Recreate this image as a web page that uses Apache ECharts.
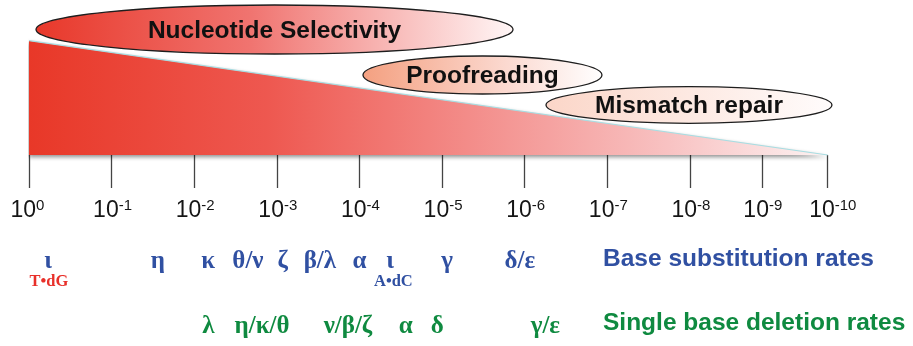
<!DOCTYPE html>
<html><head><meta charset="utf-8">
<script src="https://cdn.jsdelivr.net/npm/echarts@6/dist/echarts.min.js"></script>
<style>html,body{margin:0;padding:0;background:#fff}#c{width:913px;height:346px}</style>
</head><body><div id="c"></div>
<script>
// ---- data (log10 of error rate) ----
const tickExponents = [0, -1, -2, -3, -4, -5, -6, -7, -8, -9, -10];
const tickPositions = [0, 1, 2, 3, 4, 5, 6, 7, 8, 8.87, 9.667]; // axis spacing as drawn in the figure
const wedgeExponents = [0, -10];
const wedgeHeights = [114.3, 0];
const mechanismNames = ['Nucleotide Selectivity', 'Proofreading', 'Mismatch repair'];
const mechanismFrom = [-0.085, -4.042, -6.257];
const mechanismTo = [-5.858, -6.935, -10.065];
const substitutionLabels = ['ι', 'η', 'κ', 'θ/ν', 'ζ', 'β/λ', 'α', 'ι', 'γ', 'δ/ε'];
const substitutionExp = [-0.23, -1.56, -2.17, -2.65, -3.07, -3.52, -4.00, -4.37, -5.06, -5.94];
const substitutionNotes = ['T•dG', 'A•dC'];
const substitutionNoteExp = [-0.24, -4.41];
const deletionLabels = ['λ', 'η/κ/θ', 'ν/β/ζ', 'α', 'δ', 'γ/ε'];
const deletionExp = [-2.17, -2.82, -3.86, -4.56, -4.94, -6.25];
const rowTitles = ['Base substitution rates', 'Single base deletion rates'];

// ---- styling / layout ----
const BLUE = '#3050a2', GREEN = '#0f8a40', RED = '#e8302a';
const noteColors = [RED, BLUE];
const ellipseCY = [125.5, 80, 50];
const ellipseRY = [24.5, 19, 18.3];
const ellipseFill = [
  [[0, '#e8382a'], [0.45, '#f07470'], [1, '#fff6f6']],
  [[0, '#f4a080'], [0.6, '#fbd9d0'], [1, '#ffffff']],
  [[0, '#fbd6c8'], [1, '#fffcfc']]
];
const ROW_SUB = -107, ROW_NOTE = -127, ROW_DEL = -171.5;

function toAxis(e) {
  const d = -e;
  const n = tickExponents.length;
  for (let i = 0; i < n - 1; i++) {
    const d0 = -tickExponents[i], d1 = -tickExponents[i + 1];
    if (d <= d1 || i === n - 2) {
      return tickPositions[i] + (d - d0) / (d1 - d0) * (tickPositions[i + 1] - tickPositions[i]);
    }
  }
}

function textSeries(labels, exps, rowY, colorFn, font) {
  return {
    type: 'custom',
    coordinateSystem: 'cartesian2d',
    silent: true,
    z: 5,
    data: exps.map(e => [toAxis(e), rowY]),
    renderItem: function (params, api) {
      const p = api.coord([api.value(0), api.value(1)]);
      return {
        type: 'text',
        x: p[0], y: p[1],
        style: {
          text: labels[params.dataIndex],
          fill: colorFn(params.dataIndex),
          font: font,
          align: 'center',
          verticalAlign: 'middle'
        }
      };
    }
  };
}

const chart = echarts.init(document.getElementById('c'), null, { renderer: 'canvas' });
chart.setOption({
  animation: false,
  backgroundColor: '#ffffff',
  grid: { left: 29, right: 913 - 827.7, top: 0, bottom: 0, outerBoundsMode: 'none', containLabel: false },
  xAxis: {
    type: 'value', min: 0, max: tickPositions[tickPositions.length - 1],
    splitLine: { show: false },
    axisLine: { show: false, onZero: true },
    axisTick: { show: true, customValues: tickPositions, length: 33, lineStyle: { color: '#444', width: 1.3 } },
    axisLabel: { show: false }
  },
  yAxis: { type: 'value', min: -191, max: 155, show: false, splitLine: { show: false } },
  series: [
    {
      type: 'line',
      data: wedgeExponents.map((e, i) => [toAxis(e), wedgeHeights[i]]),
      symbol: 'none',
      silent: true,
      z: 1,
      lineStyle: { color: '#a8dde2', width: 1.2 },
      areaStyle: {
        opacity: 1,
        color: new echarts.graphic.LinearGradient(0, 0, 1, 0, [
          { offset: 0, color: '#e83828' },
          { offset: 0.3, color: '#ee5850' },
          { offset: 0.55, color: '#f38c89' },
          { offset: 0.8, color: '#f8c2c2' },
          { offset: 1, color: '#fdf2f2' }
        ]),
        shadowColor: 'rgba(0,0,0,0.45)', shadowBlur: 4, shadowOffsetY: 2
      }
    },
    {
      type: 'custom',
      coordinateSystem: 'cartesian2d',
      silent: true,
      z: 3,
      data: mechanismNames.map((n, i) => [toAxis(mechanismFrom[i]), toAxis(mechanismTo[i])]),
      encode: { x: [0, 1] },
      renderItem: function (params, api) {
        const i = params.dataIndex;
        const x1 = api.coord([api.value(0), 0])[0];
        const x2 = api.coord([api.value(1), 0])[0];
        const cy = api.coord([0, ellipseCY[i]])[1];
        const ry = api.size([0, ellipseRY[i]])[1];
        const cx = (x1 + x2) / 2, rx = (x2 - x1) / 2;
        return {
          type: 'group',
          children: [
            {
              type: 'ellipse',
              shape: { cx: cx, cy: cy, rx: rx, ry: ry },
              style: {
                fill: new echarts.graphic.LinearGradient(0, 0, 1, 0,
                  ellipseFill[i].map(s => ({ offset: s[0], color: s[1] }))),
                stroke: '#1e1e1e', lineWidth: 1.3
              }
            },
            {
              type: 'text', x: cx, y: cy + 1.5,
              style: {
                text: mechanismNames[i], fill: '#111',
                font: 'bold 24.5px "Liberation Sans", Arial, sans-serif',
                align: 'center', verticalAlign: 'middle'
              }
            }
          ]
        };
      }
    },
    {
      // tick labels 10^n
      type: 'custom',
      coordinateSystem: 'cartesian2d',
      silent: true,
      z: 5,
      data: tickPositions.map(p => [p, 0]),
      renderItem: function (params, api) {
        const p = api.coord([api.value(0), 0]);
        const e = tickExponents[params.dataIndex];
        return {
          type: 'text',
          x: p[0] - 18.5, y: p[1] + 43,
          style: {
            text: '{b|10}{s|' + (e === 0 ? '0' : String(e)) + '}',
            align: 'left', verticalAlign: 'top',
            rich: {
              b: { fontSize: 23, fontFamily: 'Liberation Sans', fill: '#151515', lineHeight: 26 },
              s: { fontSize: 15, fontFamily: 'Liberation Sans', fill: '#151515', lineHeight: 17, verticalAlign: 'top' }
            }
          }
        };
      }
    },
    textSeries(substitutionLabels, substitutionExp, ROW_SUB, () => BLUE, 'bold 25px "Liberation Serif", serif'),
    textSeries(substitutionNotes, substitutionNoteExp, ROW_NOTE, i => noteColors[i], 'bold 16.5px "Liberation Serif", serif'),
    textSeries(deletionLabels, deletionExp, ROW_DEL, () => GREEN, 'bold 25px "Liberation Serif", serif')
  ],
  graphic: [
    { type: 'text', left: 603, top: 247, style: { text: rowTitles[0], fill: BLUE, font: 'bold 24.5px "Liberation Sans", Arial, sans-serif' } },
    { type: 'text', left: 603, top: 311, style: { text: rowTitles[1], fill: GREEN, font: 'bold 24.5px "Liberation Sans", Arial, sans-serif' } }
  ]
});
</script></body></html>
